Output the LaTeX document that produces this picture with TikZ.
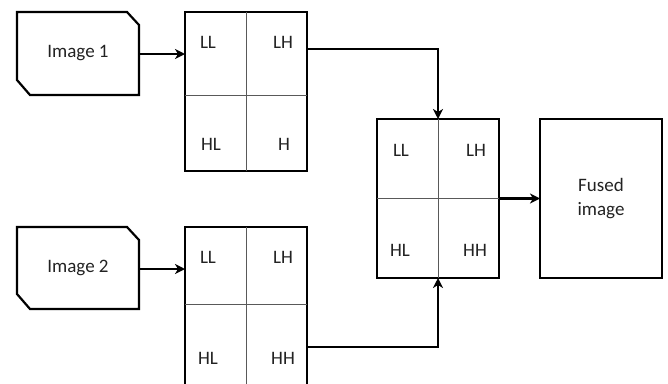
\documentclass[tikz,border=0pt]{standalone}
\usepackage{fontspec}
\setmainfont{Carlito}
\usetikzlibrary{arrows.meta,calc}
\definecolor{txt}{HTML}{222222}
\tikzset{
  box/.style={draw, line width=2.2pt, minimum width=122pt, outer sep=0pt, inner sep=0pt},
  srcbox/.style={minimum width=122pt, outer sep=0pt, inner sep=0pt},
  divider/.style={draw=black!65, line width=0.9pt},
  conn/.style={line width=2.2pt, -{Stealth[length=10pt,width=10pt,inset=3pt]}},
  lbl/.style={text=txt, font=\fontsize{19}{22}\selectfont, inner sep=0pt},
}
\begin{document}
\begin{tikzpicture}[x=1pt,y=-1pt, line join=miter]
\useasboundingbox (0,0) rectangle (668,383);
% source images
\node[srcbox, minimum height=83pt] (img1) at (78,53.5) {};
\node[srcbox, minimum height=82pt] (img2) at (78,268) {};
\foreach \n in {img1,img2}{
  \draw[line width=2.2pt] (\n.north west) -- ([xshift=-12pt]\n.north east) -- ([yshift=-13pt]\n.north east)
     -- (\n.south east) -- ([xshift=13pt]\n.south west) -- ([yshift=15pt]\n.south west) -- cycle;
}
\node[lbl] (t1) at (78,53.5) {Image 1};
\node[lbl] (t2) at (78,268) {Image 2};
% grids
\node[box, minimum height=159pt] (g1) at (246,91.5) {};
\node[box, minimum height=159pt] (g2) at (246,306.5) {};
\node[box, minimum height=159pt] (g3) at (438,198.5) {};
\node[box, minimum height=159pt] (fu) at (601,198.5) {};
% dividers
\draw[divider] (g1.north) -- (g1.south);
\draw[divider] (g1.west |- 0,95) -- (g1.east |- 0,95);
\draw[divider] (g2.north) -- (g2.south);
\draw[divider] (g2.west |- 0,304) -- (g2.east |- 0,304);
\draw[divider] (g3.north) -- (g3.south);
\draw[divider] (g3.west) -- (g3.east);
% labels
\node[lbl] (a1) at (208,42) {LL};
\node[lbl] (a2) at (283,42) {LH};
\node[lbl] (a3) at (211,144) {HL};
\node[lbl] (a4) at (284,144) {H};
\node[lbl] (b1) at (208,257) {LL};
\node[lbl] (b2) at (283,257) {LH};
\node[lbl] (b3) at (208,358) {HL};
\node[lbl] (b4) at (283,358) {HH};
\node[lbl] (c1) at (401,150) {LL};
\node[lbl] (c2) at (476,150) {LH};
\node[lbl] (c3) at (400,250) {HL};
\node[lbl] (c4) at (475,250) {HH};
\node[lbl, align=center] (ft) at (601,199) {Fused\\[2pt]image};
% connectors
\draw[conn] (img1.east |- 0,54) -- (g1.west |- 0,54);
\draw[conn] (img2.east |- 0,269) -- (g2.west |- 0,269);
\draw[conn] ([yshift=-37pt]g1.north east) -| (g3.north);
\draw[conn] ([yshift=-120pt]g2.north east) -| (g3.south);
\draw[conn] (g3.east) -- (fu.west);
\end{tikzpicture}
\end{document}
